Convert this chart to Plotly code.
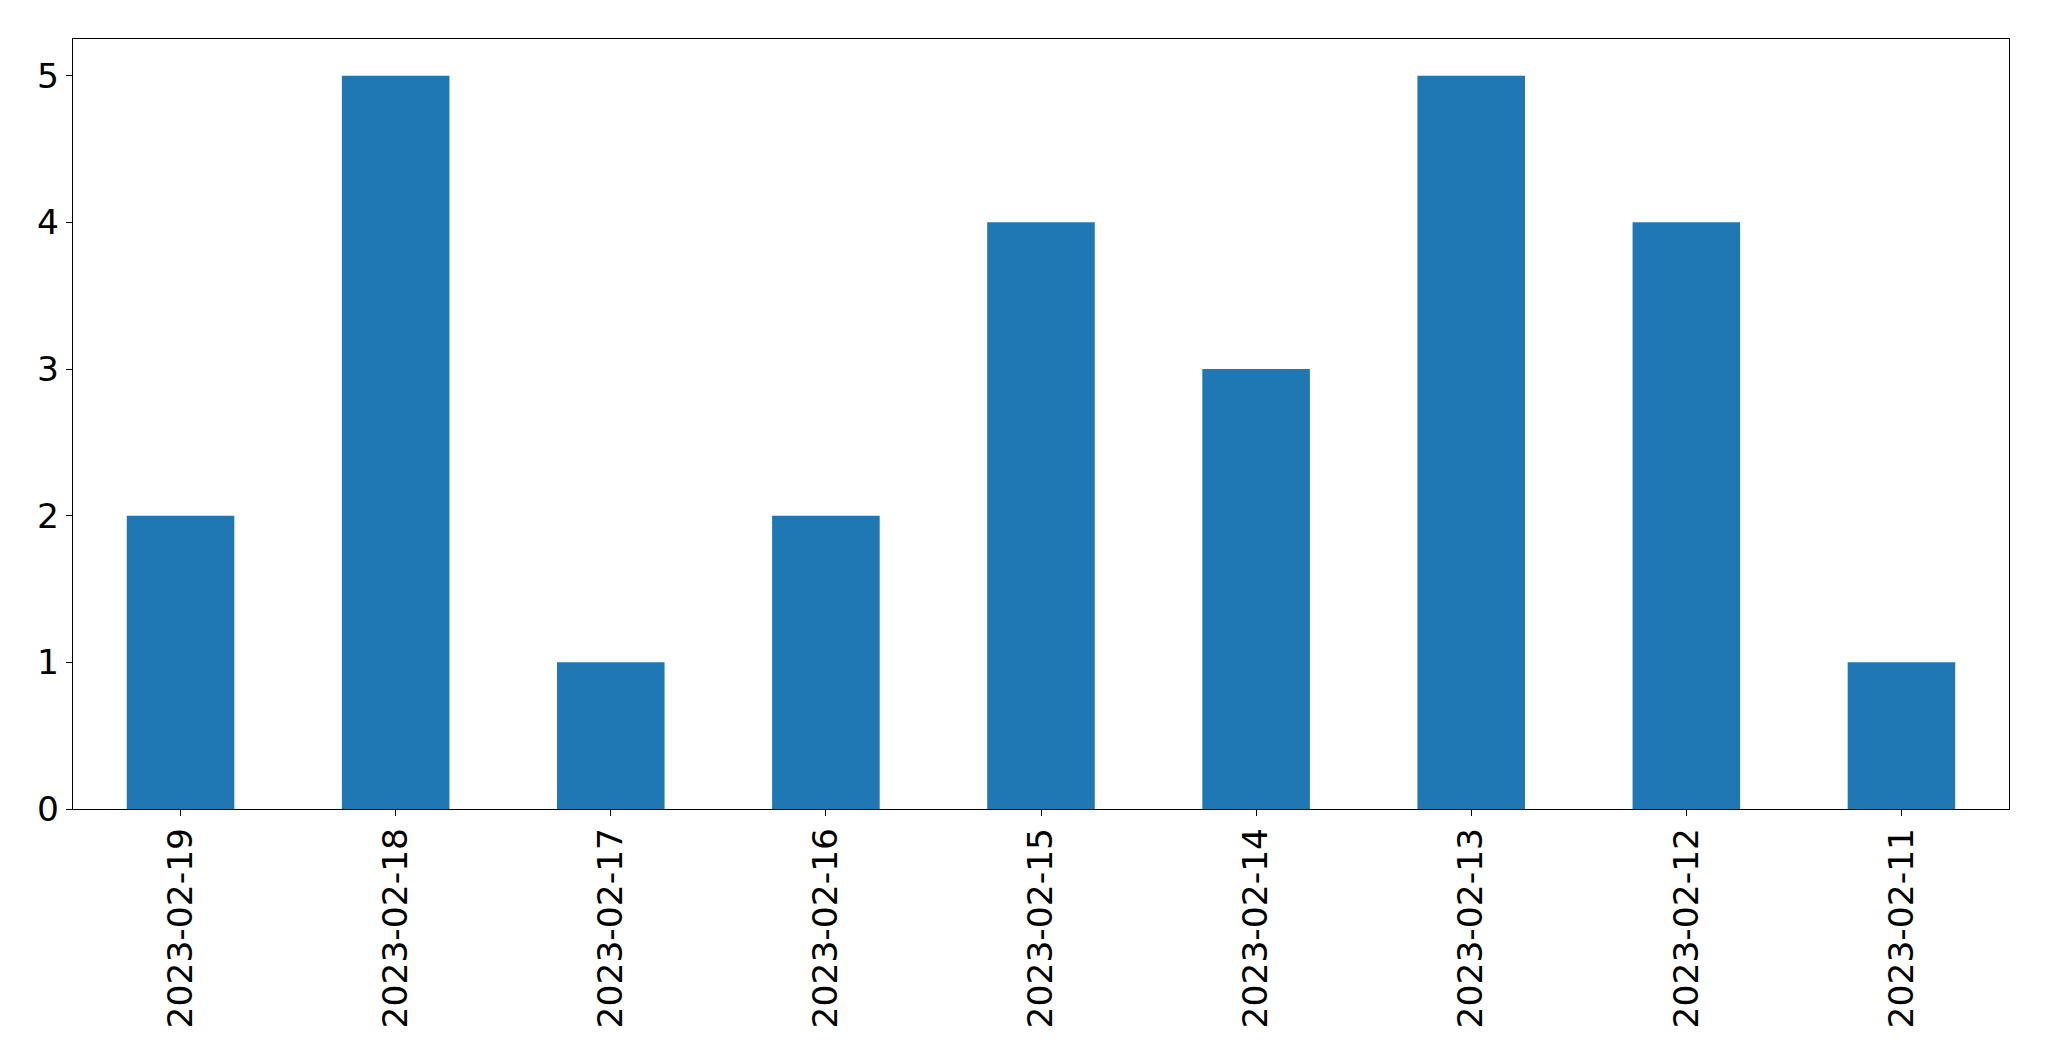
import plotly.graph_objects as go

dates = ["2023-02-19", "2023-02-18", "2023-02-17", "2023-02-16", "2023-02-15",
         "2023-02-14", "2023-02-13", "2023-02-12", "2023-02-11"]
counts = [2, 5, 1, 2, 4, 3, 5, 4, 1]
y_ticks = [0, 1, 2, 3, 4, 5]

fig = go.Figure(go.Bar(x=dates, y=counts, width=0.5, marker=dict(color="#1f77b4", line=dict(width=0))))

fig.update_layout(
    width=2049, height=1061,
    margin=dict(l=73, r=40, t=39, b=252, pad=0),
    paper_bgcolor="white", plot_bgcolor="white",
    font=dict(family="DejaVu Sans", size=34.5, color="black"),
    showlegend=False,
    xaxis=dict(type="category", range=[-0.5, 8.5], tickangle=-90,
               showline=True, linecolor="black", linewidth=1.3, mirror=True,
               ticks="outside", ticklen=6, tickwidth=1.3, tickcolor="black",
               showgrid=False, zeroline=False, ticklabelstandoff=-2),
    yaxis=dict(range=[0, 5.25], tickvals=y_ticks, ticktext=[str(v) for v in y_ticks],
               showline=True, linecolor="black", linewidth=1.3, mirror=True,
               ticks="outside", ticklen=6, tickwidth=1.3, tickcolor="black",
               showgrid=False, zeroline=False, ticklabelstandoff=0),
)

fig.write_html("out.html", config={"displayModeBar": False},
               post_script="document.body.style.margin='0';document.body.style.overflow='hidden';")
